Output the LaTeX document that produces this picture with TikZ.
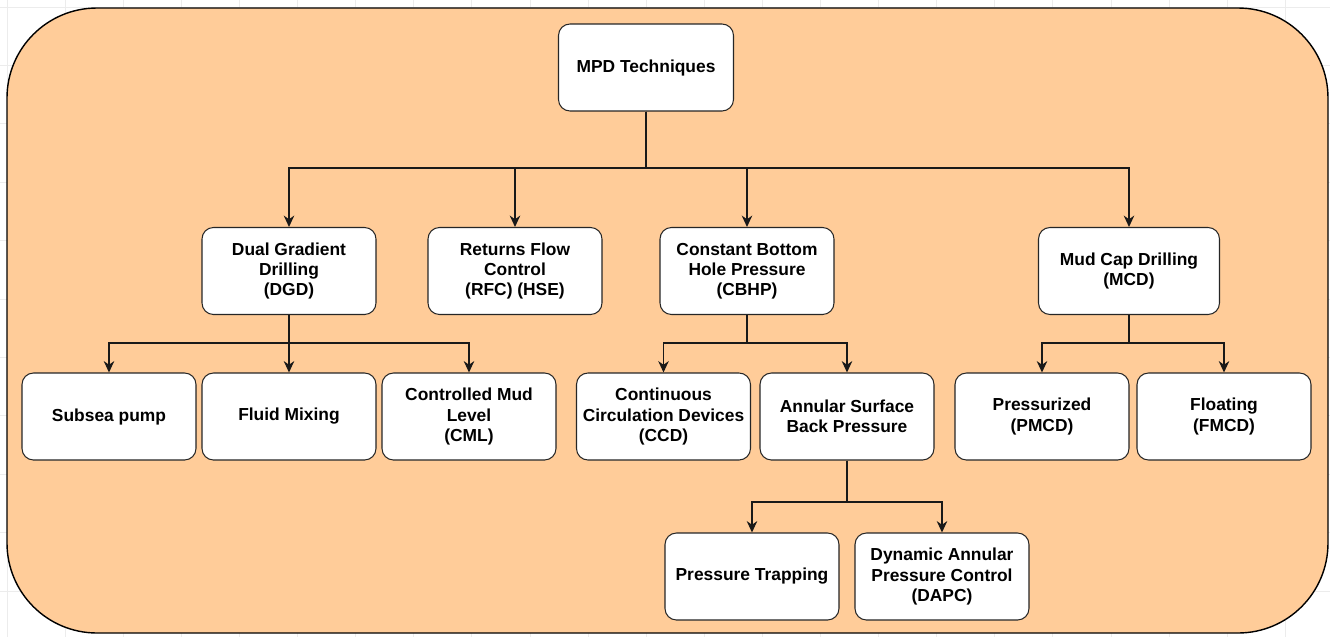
\documentclass[tikz,border=0pt]{standalone}
\usepackage{fontspec}
\setmainfont{Liberation Sans}
\definecolor{mudorange}{RGB}{255, 204, 153}
\definecolor{gridgray}{RGB}{236, 236, 236}
\usetikzlibrary{arrows.meta, positioning}

\begin{document}
\begin{tikzpicture}[
  x=0.02cm, y=-0.02cm,
  techbox/.style={draw=black!85, fill=white, rounded corners=6.5pt, line width=0.6pt, minimum width=3.48cm, minimum height=1.74cm, inner sep=2pt, align=center, font=\fontsize{9.9}{11.4}\selectfont\bfseries},
  link/.style={draw=black!90, line width=0.75pt},
  arr/.style={link, -{Stealth[length=6.5pt, width=6pt]}}
]
  \useasboundingbox (0,0) rectangle (1330,637);

  % faint canvas grid
  \foreach \k in {0,...,22} \draw[gridgray, line width=0.4pt] ({7+58.1*\k},0) -- ({7+58.1*\k},637);
  \foreach \k in {0,...,10} \draw[gridgray, line width=0.4pt] (0,{7+58.4*\k}) -- (1330,{7+58.4*\k});

  % background panel
  \draw[fill=mudorange, line width=0.8pt, rounded corners=1.8cm] (7,8) rectangle (1328,633);

  % root
  \node[techbox, minimum width=3.5cm] (mpd) at (646,67.5) {MPD Techniques};

  % main techniques
  \node[techbox] (dgd) at (289,271) {Dual Gradient\\Drilling\\(DGD)};
  \node[techbox] (rfc) at (515,271) {Returns Flow\\Control\\(RFC) (HSE)};
  \node[techbox] (cbhp) at (747,271) {Constant Bottom\\Hole Pressure\\(CBHP)};
  \node[techbox, minimum width=3.62cm] (mcd) at (1129,271) {Mud Cap Drilling\\(MCD)};

  % sub techniques
  \node[techbox] (subsea) at (109,416.5) {Subsea pump};
  \node[techbox] (fluid) at (289,416.5) {Fluid Mixing};
  \node[techbox] (cml) at (469,416.5) {Controlled Mud\\Level\\(CML)};
  \node[techbox] (ccd) at (663.5,416.5) {Continuous\\Circulation Devices\\(CCD)};
  \node[techbox] (asbp) at (847,416.5) {Annular Surface\\Back Pressure};
  \node[techbox] (pmcd) at (1042,416.5) {Pressurized\\(PMCD)};
  \node[techbox] (fmcd) at (1224,416.5) {Floating\\(FMCD)};

  % back pressure variants
  \node[techbox] (trap) at (752,576.5) {Pressure Trapping};
  \node[techbox] (dapc) at (942,576.5) {Dynamic Annular\\Pressure Control\\(DAPC)};

  % junctions
  \coordinate (j1) at (646,168);
  \coordinate (j2) at (289,343);
  \coordinate (j3) at (747,343);
  \coordinate (j4) at (1129,343);
  \coordinate (j5) at (847,502);

  % connectors
  \foreach \c in {dgd, rfc, cbhp, mcd} \draw[arr] (mpd.south) -- (j1) -| (\c.north);
  \foreach \c in {subsea, fluid, cml} \draw[arr] (dgd.south) -- (j2) -| (\c.north);
  \foreach \c in {ccd, asbp} \draw[arr] (cbhp.south) -- (j3) -| (\c.north);
  \foreach \c in {pmcd, fmcd} \draw[arr] (mcd.south) -- (j4) -| (\c.north);
  \foreach \c in {trap, dapc} \draw[arr] (asbp.south) -- (j5) -| (\c.north);
\end{tikzpicture}
\end{document}
